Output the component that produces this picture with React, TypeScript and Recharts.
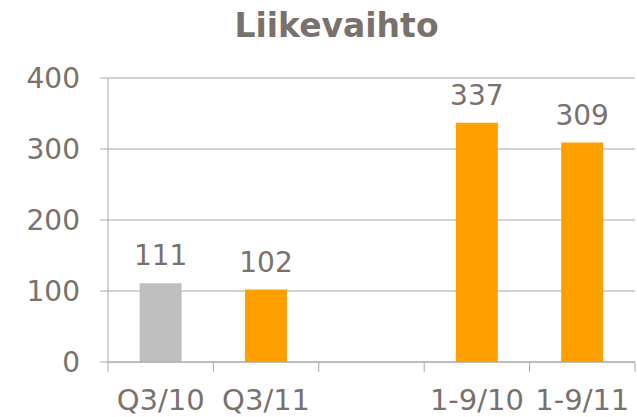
import React from "react";
import { Bar, BarChart, CartesianGrid, Cell, LabelList, XAxis, YAxis } from "recharts";

const categories = ["Q3/10", "Q3/11", "", "1-9/10", "1-9/11"];
const revenue: (number | null)[] = [111, 102, null, 337, 309];
const yTicks = [0, 100, 200, 300, 400];

const barColors = ["#bfbfbf", "#ff9f00", "#ff9f00", "#ff9f00", "#ff9f00"];

const W = 637;
const H = 417;
const M = { top: 78, right: 2, bottom: 10, left: 0 };
const Y_W = 108;
const PLOT_W = W - M.left - M.right - Y_W;

const TEXT = "#7a716c";
const GRID = "#a8a8a8";
const FONT = "'DejaVu Sans', Verdana, sans-serif";

const data = categories.map((c, i) => ({ name: c, value: revenue[i] }));

function XTick(props: any) {
  const { x, y, payload, index } = props;
  const band = PLOT_W / categories.length;
  return (
    <g>
      <line x1={x - band / 2} x2={x - band / 2} y1={y} y2={y + 10} stroke={GRID} />
      {index === categories.length - 1 && (
        <line x1={x + band / 2} x2={x + band / 2} y1={y} y2={y + 10} stroke={GRID} />
      )}
      <text x={x} y={y + 48} textAnchor="middle" fill={TEXT} fontSize={29} fontFamily={FONT}>
        {payload.value}
      </text>
    </g>
  );
}

export default function App() {
  return (
    <div style={{ position: "absolute", left: 0, top: 0, width: W, height: H, background: "#fff" }}>
      <div
        style={{
          position: "absolute",
          left: 0,
          top: 9,
          width: 673,
          textAlign: "center",
          fontFamily: FONT,
          fontWeight: "bold",
          fontSize: 33,
          lineHeight: 1,
          color: TEXT,
        }}
      >
        Liikevaihto
      </div>
      <BarChart width={W} height={H} data={data} margin={M} barCategoryGap="30%">
        <CartesianGrid horizontal vertical={false} stroke={GRID} />
        <XAxis
          dataKey="name"
          axisLine={{ stroke: GRID }}
          tickLine={false}
          tickSize={0}
          tickMargin={0}
          height={45}
          interval={0}
          tick={<XTick />}
        />
        <YAxis
          domain={[0, 400]}
          ticks={yTicks}
          width={Y_W}
          axisLine={{ stroke: GRID }}
          tickLine={{ stroke: GRID }}
          tickSize={8}
          tickMargin={20}
          tick={{ fill: TEXT, fontSize: 28, fontFamily: FONT }}
        />
        <Bar dataKey="value" isAnimationActive={false}>
          {data.map((d, i) => (
            <Cell key={d.name + i} fill={barColors[i]} />
          ))}
          <LabelList
            dataKey="value"
            position="top"
            offset={18}
            fill={TEXT}
            fontSize={28}
            fontFamily={FONT}
          />
        </Bar>
      </BarChart>
    </div>
  );
}
